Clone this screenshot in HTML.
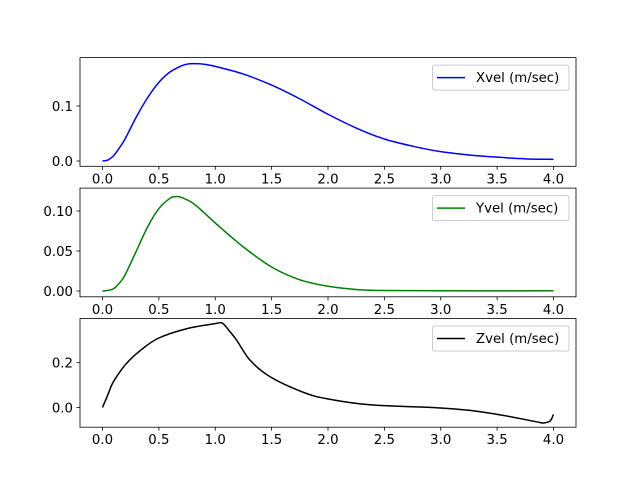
<!DOCTYPE html>
<html><head><meta charset="utf-8"><style>
html,body{margin:0;padding:0;background:#fff;}
svg text{font-family:"DejaVu Sans","Liberation Sans",sans-serif;font-size:13.3px;fill:#000;}
</style></head><body>
<svg id="chart" width="640" height="480" xmlns="http://www.w3.org/2000/svg"></svg>
<script>
const xTicks = [0, 0.5, 1, 1.5, 2, 2.5, 3, 3.5, 4];
const xTickLabels = ["0.0","0.5","1.0","1.5","2.0","2.5","3.0","3.5","4.0"];
const tX = [0,0.05,0.1,0.15,0.2,0.3,0.4,0.5,0.6,0.7,0.75,0.8,0.9,1.0,1.25,1.5,1.75,2.0,2.25,2.5,2.75,3.0,3.25,3.5,3.75,4.0];
const xvel = [0,0.002,0.01,0.024,0.04,0.08,0.115,0.143,0.162,0.173,0.176,0.177,0.176,0.172,0.158,0.138,0.113,0.085,0.06,0.04,0.027,0.017,0.011,0.007,0.004,0.003];
const tY = [0,0.05,0.1,0.15,0.2,0.3,0.4,0.5,0.6,0.65,0.7,0.8,0.9,1.0,1.25,1.5,1.75,2.0,2.25,2.5,3.0,4.0];
const yvel = [0,0.0008,0.003,0.01,0.02,0.05,0.08,0.103,0.116,0.118,0.117,0.11,0.098,0.085,0.055,0.03,0.014,0.006,0.002,0.0007,0.0003,0.0003];
const tZ = [0,0.05,0.095,0.21,0.35,0.5,0.75,1.0,1.06,1.12,1.19,1.31,1.49,1.78,1.99,2.37,2.96,3.26,3.56,3.85,3.91,3.97,4.0];
const zvel = [0,0.06,0.113,0.195,0.26,0.31,0.352,0.374,0.377,0.345,0.30,0.21,0.136,0.068,0.039,0.012,-0.001,-0.013,-0.036,-0.064,-0.069,-0.06,-0.031];
const yTicks1 = [0, 0.1], yTickLabels1 = ["0.0","0.1"];
const yTicks2 = [0, 0.05, 0.1], yTickLabels2 = ["0.00","0.05","0.10"];
const yTicks3 = [0, 0.2], yTickLabels3 = ["0.0","0.2"];

const NS="http://www.w3.org/2000/svg", svg=document.getElementById('chart');
function mk(t,a,p){const e=document.createElementNS(NS,t);for(const k in a)e.setAttribute(k,a[k]);(p||svg).appendChild(e);return e;}
function smooth(pts){
 let d='M'+pts[0][0].toFixed(2)+','+pts[0][1].toFixed(2);
 for(let i=0;i<pts.length-1;i++){
  const p0=pts[Math.max(i-1,0)],p1=pts[i],p2=pts[i+1],p3=pts[Math.min(i+2,pts.length-1)];
  const c1=[p1[0]+(p2[0]-p0[0])/6,p1[1]+(p2[1]-p0[1])/6];
  const c2=[p2[0]-(p3[0]-p1[0])/6,p2[1]-(p3[1]-p1[1])/6];
  d+=' C'+c1[0].toFixed(2)+','+c1[1].toFixed(2)+' '+c2[0].toFixed(2)+','+c2[1].toFixed(2)+' '+p2[0].toFixed(2)+','+p2[1].toFixed(2);
 }
 return d;
}
const L=80,R=576;
const xs=v=>102.5+v*112.75;
const panels=[
 {top:57.6,bot:166.3,ymin:-0.0096,ymax:0.188,t:tX,v:xvel,ticks:yTicks1,labels:yTickLabels1,color:"#0000ff",name:"Xvel (m/sec)",key:"x"},
 {top:188.1,bot:296.8,ymin:-0.0072,ymax:0.1286,t:tY,v:yvel,ticks:yTicks2,labels:yTickLabels2,color:"#008000",name:"Yvel (m/sec)",key:"y"},
 {top:318.5,bot:427.2,ymin:-0.088,ymax:0.397,t:tZ,v:zvel,ticks:yTicks3,labels:yTickLabels3,color:"#000000",name:"Zvel (m/sec)",key:"z"}
];
panels.forEach(p=>{
 const g=mk('g',{});
 
 
 const ys=v=>p.bot-(v-p.ymin)/(p.ymax-p.ymin)*(p.bot-p.top);
 const pts=p.t.map((t,i)=>[xs(t),ys(p.v[i])]);
 const line=mk('path',{d:smooth(pts),fill:'none',stroke:p.color,'stroke-width':1.5,'stroke-linejoin':'round'},g);
 
 
 const fr=mk('rect',{x:L,y:p.top,width:R-L,height:p.bot-p.top,fill:'none',stroke:'#000','stroke-width':0.8},g);
 
 
 xTicks.forEach((v,i)=>{
  mk('line',{x1:xs(v),x2:xs(v),y1:p.bot,y2:p.bot+3.5,stroke:'#000','stroke-width':0.8},g);
  const tx=mk('text',{x:xs(v),y:p.bot+17,'text-anchor':'middle'},g);
  tx.textContent=xTickLabels[i];
  
  
 });
 p.ticks.forEach((v,i)=>{
  mk('line',{x1:L-3.5,x2:L,y1:ys(v),y2:ys(v),stroke:'#000','stroke-width':0.8},g);
  const tx=mk('text',{x:L-7,y:ys(v)+5,'text-anchor':'end'},g);
  tx.textContent=p.labels[i];
  
  
 });
 const lg=mk('g',{},g);
 
 
 const ly=p.top+7.5;
 mk('rect',{x:432.5,y:ly,width:136.5,height:25,rx:2,fill:'#fff','fill-opacity':0.8,stroke:'#ccc','stroke-width':1},lg);
 mk('line',{x1:437,x2:465,y1:ly+12.5,y2:ly+12.5,stroke:p.color,'stroke-width':1.5},lg);
 const lt=mk('text',{x:476,y:ly+17},lg);
 lt.textContent=p.name;
 
 
});
</script>
</body></html>
